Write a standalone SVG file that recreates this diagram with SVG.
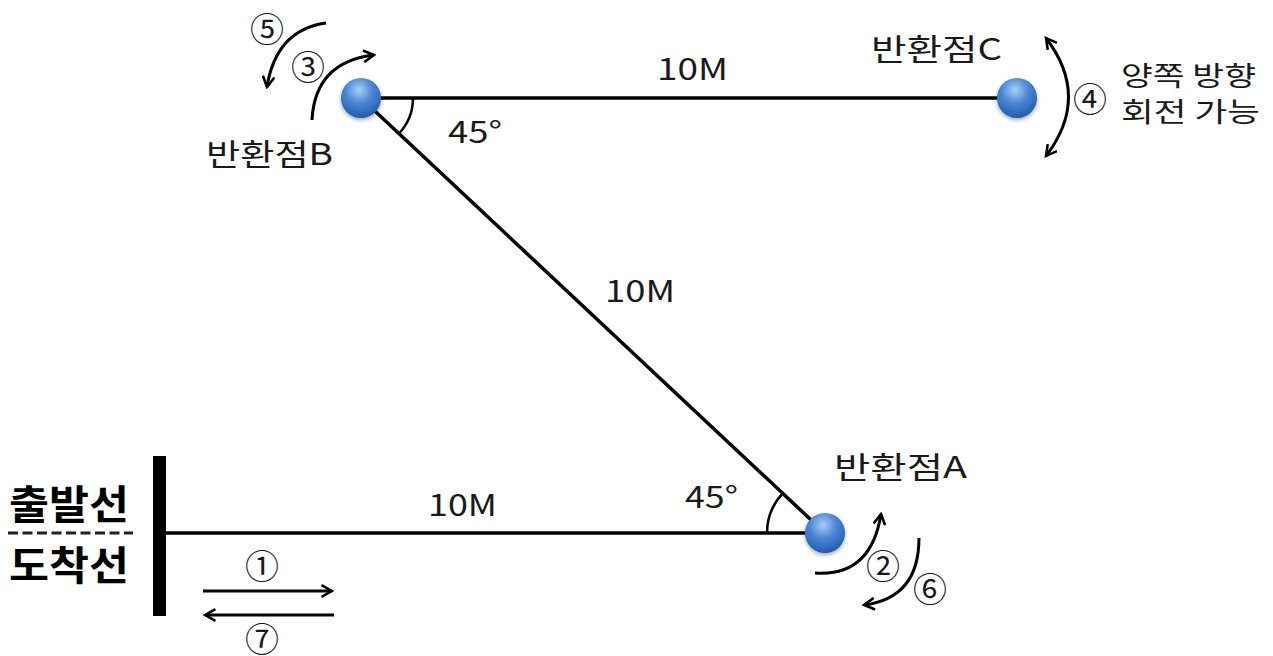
<svg xmlns="http://www.w3.org/2000/svg" width="1273" height="656" viewBox="0 0 1273 656">
<style>
.ln{stroke:#000;stroke-width:3.5;fill:none}
.arc{stroke:#000;stroke-width:2.5;fill:none}
.rot{stroke:#000;stroke-width:3;fill:none}
.t{font-family:"Noto Sans CJK KR","Noto Sans",sans-serif;fill:#1a1a1a}
.lbl{font-size:30px}
.num{font-size:34px;text-anchor:middle;dominant-baseline:central}
.big{font-size:40px;font-weight:bold;fill:#000}
</style>
<defs>
<radialGradient id="ball" cx="0.45" cy="0.3" r="0.75">
<stop offset="0" stop-color="#a9cdf5"/>
<stop offset="0.45" stop-color="#4a86d6"/>
<stop offset="1" stop-color="#1f55a8"/>
</radialGradient>
<filter id="sh" x="-30%" y="-30%" width="160%" height="170%">
<feDropShadow dx="0" dy="2" stdDeviation="2" flood-color="#000" flood-opacity="0.35"/>
</filter>
<marker id="ah" viewBox="0 0 12 12" refX="10" refY="6" markerWidth="14" markerHeight="14" markerUnits="userSpaceOnUse" orient="auto-start-reverse">
<path d="M1,1 L10,6 L1,11" fill="none" stroke="#000" stroke-width="2.2"/>
</marker>
</defs>
<rect width="1273" height="656" fill="#fff"/>

<g id="connectors">
<line class="ln" x1="361" y1="98" x2="1017" y2="98"/>
<line class="ln" x1="361" y1="98" x2="825" y2="533"/>
<line class="ln" x1="160" y1="533" x2="825" y2="533"/>
<path class="arc" d="M413,98 A52,52 0 0 1 399,133.5"/>
<path class="arc" d="M767,533 A58,58 0 0 1 782.7,493.4"/>
</g>

<g id="labels">
<text class="t lbl" x="657" y="80" textLength="71" lengthAdjust="spacingAndGlyphs">10M</text>
<text class="t lbl" x="605" y="302" textLength="70" lengthAdjust="spacingAndGlyphs">10M</text>
<text class="t lbl" x="428" y="516" textLength="69" lengthAdjust="spacingAndGlyphs">10M</text>
<text class="t lbl" x="448" y="143" textLength="54" lengthAdjust="spacingAndGlyphs">45°</text>
<text class="t lbl" x="685" y="508" textLength="53" lengthAdjust="spacingAndGlyphs">45°</text>
</g>

<g id="start-line">
<rect x="153" y="456" width="13" height="160" fill="#000"/>
<text class="t big" x="9" y="519" textLength="120" lengthAdjust="spacingAndGlyphs">출발선</text>
<line x1="8" y1="533" x2="133" y2="533" stroke="#222" stroke-width="3" stroke-dasharray="10 4.5"/>
<text class="t big" x="9" y="580" textLength="120" lengthAdjust="spacingAndGlyphs">도착선</text>
<line class="rot" x1="203" y1="591" x2="332" y2="591" marker-end="url(#ah)"/>
<line class="rot" x1="334" y1="615" x2="205" y2="615" marker-end="url(#ah)"/>
<text class="t num" x="262" y="564">①</text>
<text class="t num" x="262" y="637">⑦</text>
</g>

<g id="node-B">
<circle cx="361" cy="98" r="20" fill="url(#ball)" filter="url(#sh)"/>
<text class="t lbl" x="206" y="165" textLength="127" lengthAdjust="spacingAndGlyphs">반환점B</text>
<path class="rot" d="M312,120 Q315,62 374,55" marker-end="url(#ah)"/>
<path class="rot" d="M326,23 Q276,30 267,87" marker-end="url(#ah)"/>
<text class="t num" x="308" y="65">③</text>
<text class="t num" x="267" y="27">⑤</text>
</g>

<g id="node-C">
<circle cx="1017" cy="98" r="20" fill="url(#ball)" filter="url(#sh)"/>
<text class="t lbl" x="871" y="60" textLength="131" lengthAdjust="spacingAndGlyphs">반환점C</text>
<path class="rot" d="M1046,156 Q1091,97 1046,38" marker-start="url(#ah)" marker-end="url(#ah)"/>
<text class="t num" x="1090" y="97">④</text>
<text class="t" style="font-size:27px" x="1121" y="86" textLength="135" lengthAdjust="spacingAndGlyphs">양쪽 방향</text>
<text class="t" style="font-size:27px" x="1121" y="122" textLength="139" lengthAdjust="spacingAndGlyphs">회전 가능</text>
</g>

<g id="node-A">
<circle cx="825" cy="533" r="20" fill="url(#ball)" filter="url(#sh)"/>
<text class="t lbl" x="834" y="478" textLength="133" lengthAdjust="spacingAndGlyphs">반환점A</text>
<path class="rot" d="M815,573 Q871,577 881,514" marker-end="url(#ah)"/>
<path class="rot" d="M919,538 Q919,598 864,605" marker-end="url(#ah)"/>
<text class="t num" x="883" y="564">②</text>
<text class="t num" x="930" y="587">⑥</text>
</g>
</svg>
